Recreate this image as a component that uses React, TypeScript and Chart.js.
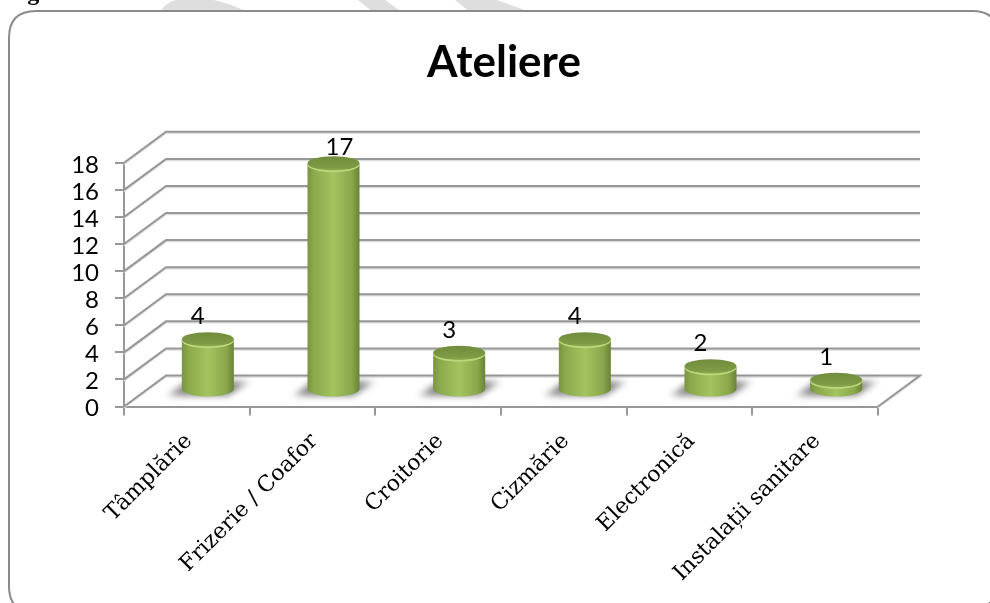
import React, { useEffect, useRef } from "react";
import { Chart, registerables } from "chart.js";

Chart.register(...registerables);

const titleText = "Ateliere";
const captionText = "Figura 8. Numărul total de ateliere";
const categories = ["Tâmplărie", "Frizerie / Coafor", "Croitorie", "Cizmărie", "Electronică", "Instalații sanitare"];
const counts = [4, 17, 3, 4, 2, 1];
const yMax = 18;
const yStep = 2;

const DEPTH_X = 42;
const DEPTH_Y = 31;
const LINE = "#979797";
const LINE_SOFT = "#dcdcdc";
const SANS = "Lato, 'Noto Sans', sans-serif";

function roundedFrame(ctx: CanvasRenderingContext2D) {
  const x = 9, y = 11, w = 990, h = 602, r = 27;
  ctx.beginPath();
  ctx.moveTo(x + r, y);
  ctx.lineTo(x + w - r, y);
  ctx.quadraticCurveTo(x + w, y, x + w, y + r);
  ctx.lineTo(x + w, y + h - r);
  ctx.quadraticCurveTo(x + w, y + h, x + w - r, y + h);
  ctx.lineTo(x + r, y + h);
  ctx.quadraticCurveTo(x, y + h, x, y + h - r);
  ctx.lineTo(x, y + r);
  ctx.quadraticCurveTo(x, y, x + r, y);
  ctx.closePath();
}

const pagePlugin = {
  id: "page",
  beforeDraw(chart: any) {
    const ctx: CanvasRenderingContext2D = chart.ctx;
    ctx.save();
    ctx.fillStyle = "#fff";
    ctx.fillRect(0, 0, chart.width, chart.height);
    // watermark bands behind the chart frame
    ctx.fillStyle = "#dedede";
    ctx.beginPath();
    ctx.moveTo(160, 12);
    ctx.quadraticCurveTo(166, 2, 176, 0);
    ctx.lineTo(214, 0);
    ctx.quadraticCurveTo(232, 4, 247, 12);
    ctx.closePath();
    ctx.moveTo(358, 0);
    ctx.lineTo(385, 0);
    ctx.lineTo(402, 12);
    ctx.lineTo(373, 12);
    ctx.closePath();
    ctx.moveTo(455, 0);
    ctx.lineTo(497, 0);
    ctx.lineTo(530, 12);
    ctx.lineTo(470, 12);
    ctx.closePath();
    ctx.fill();
    // caption of the page, cut by the top edge
    ctx.fillStyle = "#000";
    ctx.font = "bold 24px 'Liberation Serif', serif";
    ctx.textAlign = "left";
    ctx.textBaseline = "alphabetic";
    ctx.fillText(captionText, 6, -0.5);
    // frame
    roundedFrame(ctx);
    ctx.fillStyle = "#fff";
    ctx.fill();
    ctx.strokeStyle = "#8a8a8a";
    ctx.lineWidth = 2;
    ctx.stroke();
    // speck at the lower right
    ctx.fillStyle = "#777";
    ctx.fillRect(989, 602, 1, 1);
    ctx.restore();
  },
};

function strokeLine(ctx: CanvasRenderingContext2D, pts: number[][], color: string, width: number) {
  ctx.strokeStyle = color;
  ctx.lineWidth = width;
  ctx.beginPath();
  pts.forEach((p, i) => (i ? ctx.lineTo(p[0], p[1]) : ctx.moveTo(p[0], p[1])));
  ctx.stroke();
}

const wallPlugin = {
  id: "walls",
  beforeDatasetsDraw(chart: any) {
    const ctx: CanvasRenderingContext2D = chart.ctx;
    const { left, right } = chart.chartArea;
    const yScale = chart.scales.y;
    ctx.save();
    yScale.ticks.forEach((t: any) => {
      const py = yScale.getPixelForValue(t.value);
      const path = [
        [left, py],
        [left + DEPTH_X, py - DEPTH_Y],
        [right + DEPTH_X, py - DEPTH_Y],
      ];
      if (t.value === 0) {
        path.push([right, py]);
      }
      strokeLine(ctx, path.map((p) => [p[0], p[1] + 1.5]), LINE_SOFT, 1.5);
      strokeLine(ctx, path, LINE, 2);
    });
    ctx.restore();
  },
};

function drawCylinder(ctx: CanvasRenderingContext2D, cx: number, topY: number, baseY: number, w: number) {
  const rx = w / 2;
  const ry = 7.5;
  const l = cx - rx;
  const r = cx + rx;

  // floor shadow
  ctx.save();
  ctx.filter = "blur(3px)";
  const sh = ctx.createLinearGradient(l - 20, 0, r + 20, 0);
  sh.addColorStop(0, "rgba(120,120,120,0.15)");
  sh.addColorStop(0.2, "rgba(120,120,120,0.85)");
  sh.addColorStop(0.8, "rgba(120,120,120,0.85)");
  sh.addColorStop(1, "rgba(120,120,120,0.05)");
  ctx.fillStyle = sh;
  ctx.beginPath();
  ctx.moveTo(l - 16, baseY + 7);
  ctx.lineTo(r - 6, baseY + 7);
  ctx.lineTo(r + 18, baseY - 8);
  ctx.lineTo(l + 6, baseY - 8);
  ctx.closePath();
  ctx.fill();
  ctx.restore();

  // body
  const body = ctx.createLinearGradient(l, 0, r, 0);
  body.addColorStop(0, "#7b9440");
  body.addColorStop(0.12, "#8ba84c");
  body.addColorStop(0.5, "#a3c45f");
  body.addColorStop(0.85, "#8aa74c");
  body.addColorStop(1, "#6b8236");
  ctx.fillStyle = body;
  ctx.beginPath();
  ctx.moveTo(l, topY);
  ctx.lineTo(l, baseY);
  ctx.ellipse(cx, baseY, rx, ry, 0, Math.PI, 0, true);
  ctx.lineTo(r, topY);
  ctx.ellipse(cx, topY, rx, ry, 0, 0, Math.PI, false);
  ctx.closePath();
  ctx.fill();

  // rim highlight and top
  ctx.fillStyle = "#bcd87c";
  ctx.beginPath();
  ctx.ellipse(cx, topY + 0.8, rx, ry, 0, 0, Math.PI * 2);
  ctx.fill();
  const top = ctx.createLinearGradient(0, topY - ry, 0, topY + ry);
  top.addColorStop(0, "#718c3c");
  top.addColorStop(0.75, "#7f9b46");
  top.addColorStop(1, "#93b253");
  ctx.fillStyle = top;
  ctx.beginPath();
  ctx.ellipse(cx, topY - 0.6, rx, ry - 0.4, 0, 0, Math.PI * 2);
  ctx.fill();
}

const cylinderPlugin = {
  id: "cylinders",
  beforeDatasetDraw(chart: any, args: any) {
    const ctx: CanvasRenderingContext2D = chart.ctx;
    const meta = args.meta;
    const values = chart.data.datasets[args.index].data as number[];
    const halfDepth = DEPTH_X / 2;
    ctx.save();
    meta.data.forEach((el: any) => {
      drawCylinder(ctx, el.x + halfDepth, el.y - 12.5, el.base - 16.5, el.width);
    });
    ctx.fillStyle = "#000";
    ctx.font = `24px ${SANS}`;
    ctx.textAlign = "center";
    ctx.textBaseline = "middle";
    const topLimit = 147;
    meta.data.forEach((el: any, i: number) => {
      const wanted = el.y - 36;
      const clamped = wanted < topLimit;
      const lx = el.x + halfDepth + (clamped ? 6 : -10);
      ctx.fillText(String(values[i]), lx, clamped ? topLimit : wanted);
    });
    ctx.restore();
    return false;
  },
};

const titleShift = {
  id: "titleShift",
  afterLayout(chart: any) {
    if (chart.titleBlock) {
      chart.titleBlock.left += 3;
      chart.titleBlock.right += 3;
    }
  },
};

export default function App() {
  const ref = useRef<HTMLCanvasElement>(null);
  useEffect(() => {
    const chart = new Chart(ref.current!, {
      type: "bar",
      data: {
        labels: categories,
        datasets: [
          {
            label: titleText,
            data: counts,
            backgroundColor: "#a3c45f",
            categoryPercentage: 1,
            barPercentage: 0.414,
          },
        ],
      },
      plugins: [pagePlugin, wallPlugin, cylinderPlugin, titleShift],
      options: {
        responsive: false,
        animation: false,
        layout: { padding: { left: 0, right: 112, top: 0, bottom: 0 } },
        plugins: {
          legend: { display: false },
          tooltip: { enabled: false },
          title: {
            display: true,
            text: titleText,
            fullSize: false,
            color: "#000",
            font: { family: SANS, size: 44, weight: "bold" },
            padding: { top: 36, bottom: 74 },
          },
        },
        scales: {
          y: {
            min: 0,
            max: yMax,
            afterFit(scale: any) {
              scale.width = 124;
            },
            ticks: {
              stepSize: yStep,
              autoSkip: false,
              color: "#000",
              padding: 16,
              labelOffset: 2,
              font: { family: SANS, size: 24 },
            },
            grid: { drawOnChartArea: false, color: LINE, lineWidth: 2, tickLength: 9 },
            border: { display: true, color: LINE, width: 2 },
          },
          x: {
            offset: true,
            afterFit(scale: any) {
              scale.height = 196.5;
            },
            ticks: {
              color: "#000",
              maxRotation: 45,
              minRotation: 45,
              autoSkip: false,
              padding: 13,
              labelOffset: 2,
              font: { family: "'DejaVu Serif', serif", size: 22 },
            },
            grid: { drawOnChartArea: false, color: LINE, lineWidth: 2, tickLength: 9, offset: true },
            border: { display: true, color: LINE, width: 2 },
          },
        },
      },
    } as any);
    return () => chart.destroy();
  }, []);
  return (
    <canvas
      ref={ref}
      width={990}
      height={603}
      style={{ position: "absolute", left: 0, top: 0, display: "block" }}
    />
  );
}
